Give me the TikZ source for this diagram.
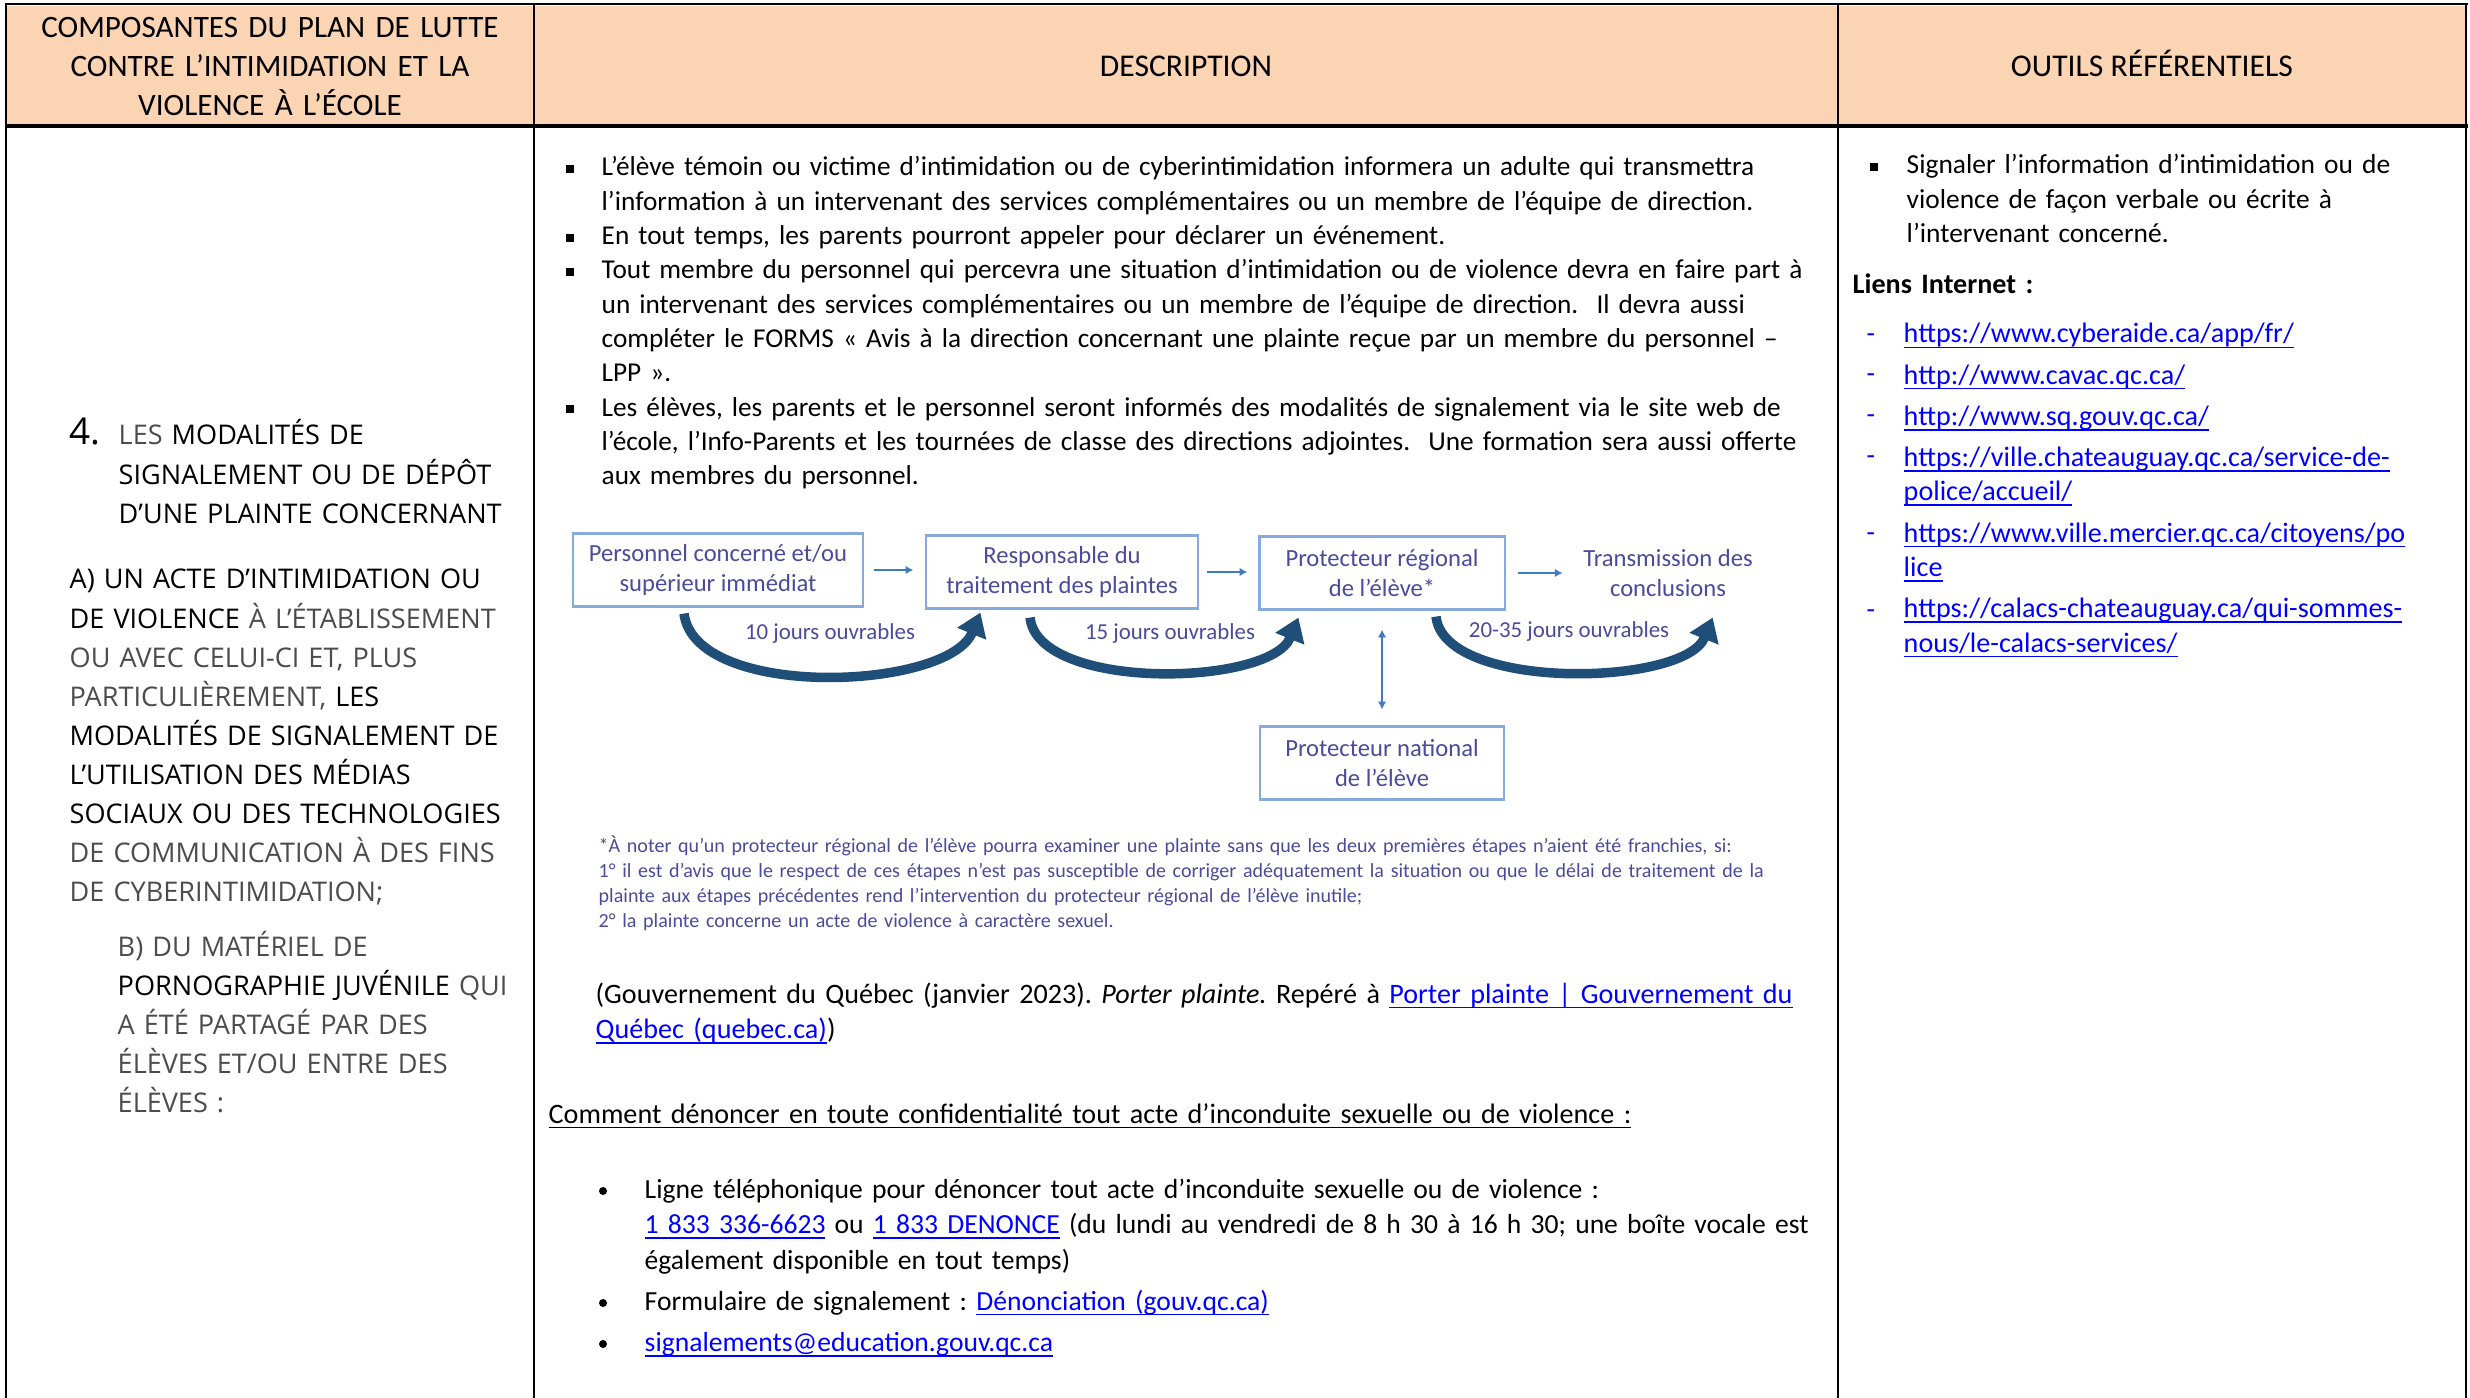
\documentclass[tikz,border=0pt]{standalone}
\usepackage{fontspec}
\setmainfont{Carlito}
\newfontfamily\capsfont{Open Sans}
\usepackage{xcolor}
\usetikzlibrary{positioning}
\usetikzlibrary{calc}
\usetikzlibrary{arrows.meta}
\frenchspacing

\definecolor{headfill}{HTML}{FBD4B4}
\definecolor{flowtextcol}{HTML}{4B4B9B}
\definecolor{flowlinecol}{HTML}{86ABDA}
\definecolor{flowarrowcol}{HTML}{3D7CC0}
\definecolor{curvecol}{HTML}{1F4E79}
\definecolor{linkcol}{HTML}{0000FF}
\definecolor{litecol}{gray}{0.3}

\newsavebox{\ulbox}
\newcommand{\underl}[1]{\leavevmode\sbox{\ulbox}{#1}\rlap{\rule[-1.5pt]{\wd\ulbox}{0.5pt}}\usebox{\ulbox}}
\newcommand{\weblink}[1]{\textcolor{linkcol}{\underl{#1}}}
\newcommand{\lite}[1]{\textcolor{litecol}{#1}}

\tikzset{
  headtext/.style={anchor=base, inner sep=0pt, font=\fontsize{9}{10.95}\selectfont},
  leftcol/.style={anchor=base west, inner sep=0pt, align=left, text width=6cm,
    font=\capsfont\fontsize{7.7}{11.1}\selectfont},
  body/.style={anchor=base west, inner sep=0pt, align=left, text width=13cm,
    font=\fontsize{7.8}{9.76}\selectfont},
  flowbox/.style={draw=flowlinecol, line width=0.6pt, fill=white, minimum height=0.73cm,
    inner sep=0pt, align=center, text=flowtextcol, font=\fontsize{7}{8.5}\selectfont},
  flowplain/.style={inner sep=0pt, align=center, text=flowtextcol, font=\fontsize{7}{8.5}\selectfont},
  flowlabel/.style={inner sep=0pt, text=flowtextcol, font=\fontsize{6.5}{7}\selectfont},
  thinarrow/.style={draw=flowarrowcol, line width=0.5pt, -{Latex[length=2.2pt,width=2.4pt]}},
  curvearrow/.style={draw=curvecol, line width=2.7pt, -{Triangle[length=6.5pt,width=8.5pt]}},
}

\begin{document}
\begin{tikzpicture}[x=0.01cm, y=-0.01cm]
    \def\colA{534}
    \def\colB{1838}
    \def\headbot{126}

    \fill[white] (0,0) rectangle (2470,1398);
    \useasboundingbox (0,0) rectangle (2470,1398);

    % table frame
    \fill[headfill] (7,6) rectangle (2465,\headbot);
    \draw[line width=0.5pt] (5,4) -- (2468,4);
    \draw[line width=1.1pt] (5,\headbot) -- (2468,\headbot);
    \draw[line width=0.8pt] (6,4) -- (6,1398);
    \draw[line width=0.6pt] (\colA,4) -- (\colA,1398);
    \draw[line width=0.6pt] (\colB,4) -- (\colB,1398);
    \draw[line width=0.7pt] (2466,4) -- (2466,1398);

    % headers
    \node[headtext, text width=5cm, align=center, font=\fontsize{8.85}{10.95}\selectfont] (head1) at (270,38)
      {COMPOSANTES DU PLAN DE LUTTE\\CONTRE L’INTIMIDATION ET LA\\VIOLENCE À L’ÉCOLE};
    \node[headtext] (head2) at (1186,77) {DESCRIPTION};
    \node[headtext] (head3) at (2152,77) {OUTILS RÉFÉRENTIELS};

    % left column
    \node[leftcol, text width=1cm] (num) at (69,445) {\fontsize{10.5}{11.1}\selectfont 4.};
    \node[leftcol] (partA) at (118,445)
      {\lite{LES} MODALITÉS DE\\SIGNALEMENT OU DE DÉPÔT\\D’UNE PLAINTE CONCERNANT};
    \node[leftcol] (partB) at (69,589)
      {A) UN ACTE D’INTIMIDATION OU\\DE VIOLENCE \lite{À L’ÉTABLISSEMENT}\\
       \lite{OU AVEC CELUI-CI ET, PLUS}\\\lite{PARTICULIÈREMENT,} LES\\
       MODALITÉS DE SIGNALEMENT DE\\L’UTILISATION DES MÉDIAS\\
       SOCIAUX OU DES TECHNOLOGIES\\\lite{DE COMMUNICATION À DES FINS}\\
       \lite{DE CYBERINTIMIDATION;}};
    \node[leftcol] (partC) at (117,956)
      {\lite{B) DU MATÉRIEL DE}\\PORNOGRAPHIE JUVÉNILE \lite{QUI}\\
       \lite{A ÉTÉ PARTAGÉ PAR DES}\\\lite{ÉLÈVES ET/OU ENTRE DES}\\\lite{ÉLÈVES :}};

    % description
    \node[body, font=\fontsize{7.75}{9.76}\selectfont] (desc) at (601,176)
      {L’élève témoin ou victime d’intimidation ou de cyberintimidation informera un adulte qui transmettra\\
       l’information à un intervenant des services complémentaires ou un membre de l’équipe de direction.\\
       En tout temps, les parents pourront appeler pour déclarer un événement.\\
       Tout membre du personnel qui percevra une situation d’intimidation ou de violence devra en faire part à\\
       un intervenant des services complémentaires ou un membre de l’équipe de direction.\ \ Il devra aussi\\
       compléter le FORMS « Avis à la direction concernant une plainte reçue par un membre du personnel –\\
       LPP ».\\
       Les élèves, les parents et le personnel seront informés des modalités de signalement via le site web de\\
       l’école, l’Info-Parents et les tournées de classe des directions adjointes.\ \ Une formation sera aussi offerte\\
       aux membres du personnel.};
    \foreach \y in {176,245,279,416} {
      \fill (566,\y-11) rectangle (574,\y-3);
    }

    % flowchart
    \node[flowbox, minimum width=2.9cm] (pers) at (718,570) {Personnel concerné et/ou\\supérieur immédiat};
    \node[flowbox, minimum width=2.71cm] (resp) at (1062,572) {Responsable du\\traitement des plaintes};
    \node[flowbox, minimum width=2.45cm] (preg) at (1382,573) {Protecteur régional\\de l’élève*};
    \node[flowplain] (trans) at (1668,573) {Transmission des\\conclusions};
    \node[flowbox, minimum width=2.44cm] (pnat) at (1382,763) {Protecteur national\\de l’élève};

    \draw[thinarrow, shorten <=0.1cm, shorten >=0.12cm] (pers.east) -- (pers.east -| resp.west);
    \draw[thinarrow, shorten <=0.08cm, shorten >=0.11cm] (resp.east) -- (resp.east -| preg.west);
    \draw[thinarrow, shorten <=0.12cm, shorten >=0.2cm] (preg.east) -- (preg.east -| trans.west);
    \draw[thinarrow, {Latex[length=2.2pt,width=2.4pt]}-{Latex[length=2.2pt,width=2.4pt]},
      shorten <=0.19cm, shorten >=0.16cm] (preg.south) -- (pnat.north);

    \draw[curvearrow] ($(pers.south)+(-34,6)$) .. controls +(11,87) and +(-32,78) .. ($(resp.south west)+(55,3)$);
    \draw[curvearrow] ($(resp.south)+(-32,8)$) .. controls +(8,74) and +(-28,69) .. ($(preg.south west)+(40,7)$);
    \draw[curvearrow] ($(preg.south)+(54,6)$) .. controls +(8,75) and +(-28,69) .. ($(preg.south east)+(207,7)$);

    \node[flowlabel] (days1) at (830,634) {10 jours ouvrables};
    \node[flowlabel] (days2) at (1170,634) {15 jours ouvrables};
    \node[flowlabel] (days3) at (1569,632) {20-35 jours ouvrables};

    \node[body, font=\fontsize{5.7}{7.03}\selectfont, text=flowtextcol] (note) at (598,853)
      {*À noter qu’un protecteur régional de l’élève pourra examiner une plainte sans que les deux premières étapes n’aient été franchies, si:\\
       1° il est d’avis que le respect de ces étapes n’est pas susceptible de corriger adéquatement la situation ou que le délai de traitement de la\\
       plainte aux étapes précédentes rend l’intervention du protecteur régional de l’élève inutile;\\
       2° la plainte concerne un acte de violence à caractère sexuel.};

    % source and reporting
    \node[body, font=\fontsize{8}{10.2}\selectfont] (cite) at (595,1003)
      {(Gouvernement du Québec (janvier 2023). \textit{Porter plainte.} Repéré à \weblink{Porter plainte | Gouvernement du}\\
       \weblink{Québec (quebec.ca)})};
    \node[body, font=\fontsize{8}{9.76}\selectfont] (howto) at (548,1123)
      {\underl{Comment dénoncer en toute confidentialité tout acte d’inconduite sexuelle ou de violence :}};
    \node[body, font=\fontsize{7.85}{10.1}\selectfont] (ways) at (644,1198)
      {Ligne téléphonique pour dénoncer tout acte d’inconduite sexuelle ou de violence :\\
       \weblink{1 833 336-6623} ou \weblink{1 833 DENONCE} (du lundi au vendredi de 8 h 30 à 16 h 30; une boîte vocale est\\
       également disponible en tout temps)\\[1.6pt]
       Formulaire de signalement : \weblink{Dénonciation (gouv.qc.ca)}\\[1.6pt]
       \weblink{signalements@education.gouv.qc.ca}};
    \foreach \y in {1198,1310,1351} {
      \fill (603,\y-7) circle (4);
    }

    % tools column
    \node[body] (tool) at (1906,174)
      {Signaler l’information d’intimidation ou de\\violence de façon verbale ou écrite à\\l’intervenant concerné.};
    \fill (1870,163) rectangle (1878,171);
    \node[body, font=\fontsize{8}{9.76}\selectfont] (liens) at (1852,294) {\textbf{Liens Internet :}};
    \node[body, font=\fontsize{8}{9.8}\selectfont] (links) at (1903,343)
      {\weblink{https://www.cyberaide.ca/app/fr/}\\[1.9pt]
       \weblink{http://www.cavac.qc.ca/}\\[1.9pt]
       \weblink{http://www.sq.gouv.qc.ca/}\\[1.9pt]
       \weblink{https://ville.chateauguay.qc.ca/service-de-}\\\weblink{police/accueil/}\\[1.9pt]
       \weblink{https://www.ville.mercier.qc.ca/citoyens/po}\\\weblink{lice}\\[1.9pt]
       \weblink{https://calacs-chateauguay.ca/qui-sommes-}\\\weblink{nous/le-calacs-services/}};
    \foreach \y in {343,383,424,465,542,619} {
      \node[body, text width=1cm, text=linkcol] (dash\y) at (1866,\y) {-};
    }
\end{tikzpicture}
\end{document}
